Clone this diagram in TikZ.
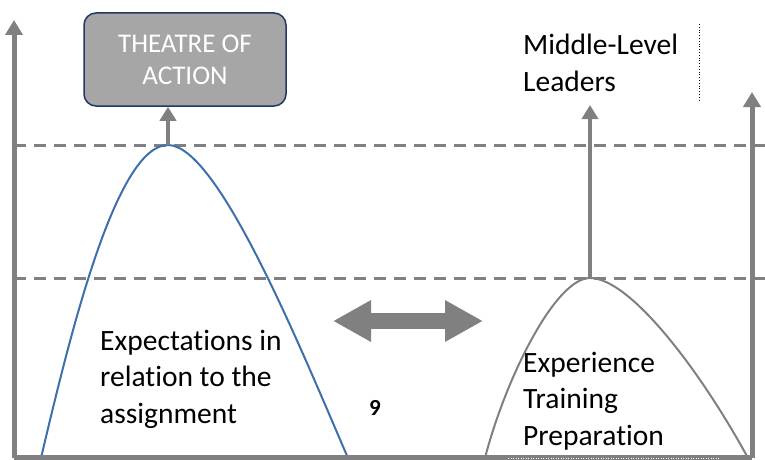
\documentclass[tikz,border=0pt]{standalone}
\usepackage{fontspec}
\setmainfont{Carlito}[Ligatures={NoCommon}]
\usetikzlibrary{arrows.meta,positioning}
\definecolor{axisgray}{HTML}{808080}
\definecolor{curveblue}{HTML}{3D70AB}
\definecolor{boxgray}{HTML}{A6A6A6}
\definecolor{boxline}{HTML}{1F3864}
\tikzset{
	axisline/.style={draw=axisgray,line width=5pt,-{Triangle[width=17pt,length=15pt]}},
	levelline/.style={draw=axisgray,line width=3pt,dash pattern=on 12pt off 8pt},
	riseline/.style={draw=axisgray,line width=4pt,-{Triangle[width=16pt,length=14pt]}},
	txt/.style={align=left,font=\fontsize{29.5}{36.5}\selectfont,inner sep=0pt,anchor=base west},
	theatrebox/.style={draw=boxline,line width=1.5pt,fill=boxgray,rounded corners=12pt,
		minimum width=202pt,minimum height=93pt,align=center,text=white,
		font=\fontsize{27}{32}\selectfont}
}
\begin{document}
\begin{tikzpicture}[x=1pt,y=-1pt]
\useasboundingbox (0,0) rectangle (765,460);
\coordinate (o) at (14,457.5);
\coordinate (ytop) at (14,20);
\coordinate (r) at (752,457.5);
\coordinate (rtop) at (752,92);
\coordinate (peakA) at (168,145);
\coordinate (baseA1) at (41,458);
\coordinate (baseA2) at (348,458);
\coordinate (peakB) at (590,278);
\coordinate (baseB1) at (485,458);
\coordinate (baseB2) at (748,458);
\coordinate (topB) at (590,105);
\coordinate (swapL) at (333,321);
\coordinate (swapR) at (483,321);

% levels
\foreach \y in {145,278}
{
	\draw[levelline] (14,\y) -- (765,\y);
}

% the two curves
\draw[curveblue,line width=2pt] (baseA1) .. controls (70,335) and (116,145) .. (peakA)
	.. controls (218,145) and (300,347) .. (baseA2);
\draw[axisgray,line width=2pt] (baseB1) .. controls (505,380) and (555,278) .. (peakB)
	.. controls (630,278) and (700,370) .. (baseB2);

% axes
\draw[axisgray,line width=5pt] (o) -- (r);
\draw[white,line width=1pt,dash pattern=on 1pt off 1.5pt] (508,458) -- (720,458);
\draw[axisline] (o) -- (ytop);
\draw[axisline] (r) -- (rtop);

\node[theatrebox] (theatre) at (185,59.5) {THEATRE OF\\ACTION};
\draw[riseline] (peakA) -- (peakA |- theatre.south);
\draw[riseline] (peakB) -- (topB);

\draw[black,line width=0.8pt,dotted] (699,24) -- (699,102);

\draw[axisgray,line width=16pt,{Triangle[width=39pt,length=38pt]}-{Triangle[width=39pt,length=38pt]}] (swapL) -- (swapR);

% last line sits on the given point
\node[txt] (leaders) at (523,91) {Middle-Level\\Leaders};
\node[txt] (expect) at (100,423) {Expectations in\\relation to the\\assignment};
\node[txt] (exper) at (523,445) {Experience\\Training\\Preparation};
\node[font=\fontsize{23}{26}\selectfont\bfseries] (nine) at (375,408) {9};
\end{tikzpicture}
\end{document}
